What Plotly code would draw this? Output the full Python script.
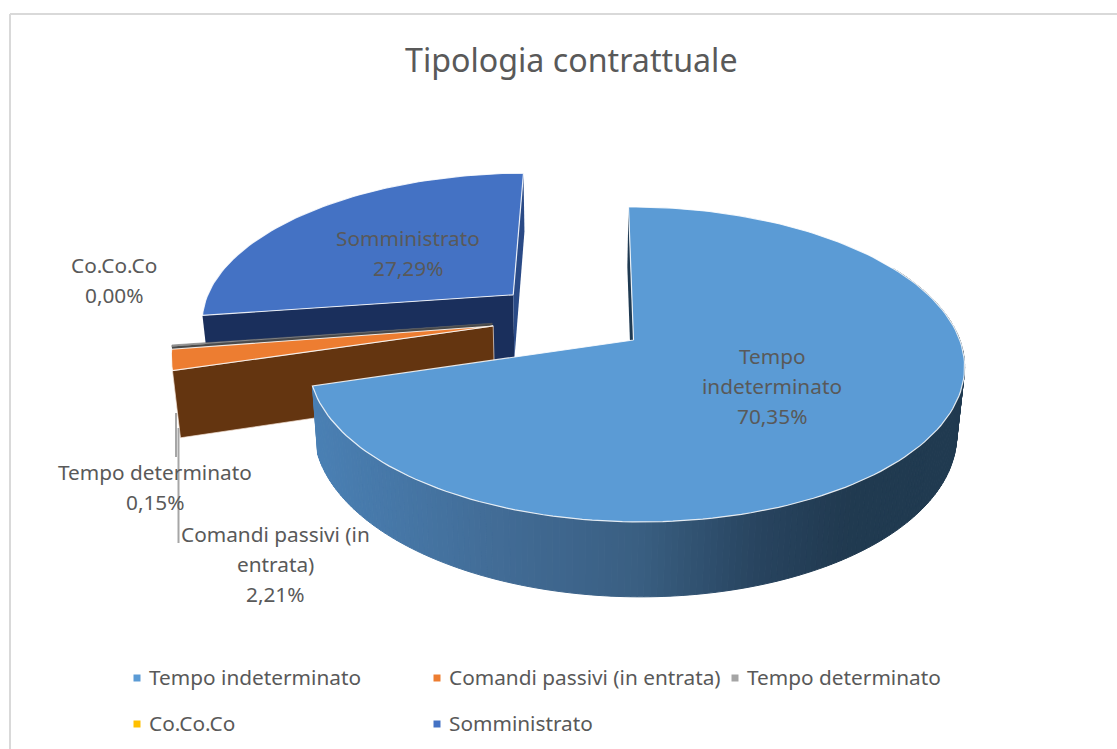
import math
import plotly.graph_objects as go

# ---- data ----
title = "Tipologia contrattuale"
categories = ["Tempo indeterminato", "Comandi passivi (in entrata)", "Tempo determinato", "Co.Co.Co", "Somministrato"]
values = [70.35, 2.21, 0.15, 0.00, 27.29]
colors = ["#5B9BD5", "#ED7D31", "#A5A5A5", "#FFC000", "#4472C4"]
wall_colors = ["#2F5577", "#643510", "#4A4A4A", "#735700", "#1A2F5C"]

# ---- projection of the exploded 3D pie onto the pixel-ranged axes ----
AX, AY, RX, RY, K, J, TILT = 633.5, 340, 324, 153.7, 0.155, -0.007, 5
VX, SHRINK, H, EXPLODE = 571, 0.98, 66.4, 0.247


def den(u, d):
    return 1 + K * d + J * u


def top(u, d):
    q = den(u, d)
    return AX + RX * u / q - TILT * d, AY - RY * d / q


def bottom(u, d):
    x, y = top(u, d)
    return VX + (x - VX) * SHRINK, AY + (y - AY) * SHRINK + H / den(u, d)


total = sum(values)
slices = []
cum = 0.0
for v in values:
    a0 = cum / total * 360
    cum += v
    slices.append((a0, cum / total * 360))


def unit(a):
    r = math.radians(a)
    return math.sin(r), math.cos(r)


mid0 = unit(sum(slices[0]) / 2)
cu, cd = -EXPLODE * mid0[0], -EXPLODE * mid0[1]


def apex(i):
    m = unit(sum(slices[i]) / 2)
    return cu + EXPLODE * m[0], cd + EXPLODE * m[1]


def rim(i, a):
    au, ad = apex(i)
    s = unit(a)
    return au + s[0], ad + s[1]


fig = go.Figure()


def poly(pts, fill, line=None, width=0.0):
    fig.add_trace(go.Scatter(
        x=[p[0] for p in pts] + [pts[0][0]], y=[p[1] for p in pts] + [pts[0][1]],
        mode="lines", fill="toself", fillcolor=fill,
        line=dict(color=line or fill, width=width), hoverinfo="skip", showlegend=False))


def top_surface(i, line="rgba(255,255,255,0.85)", width=1.2):
    a0, a1 = slices[i]
    n = max(2, int((a1 - a0) / 1.5))
    pts = [top(*apex(i))] + [top(*rim(i, a0 + (a1 - a0) * t / n)) for t in range(n + 1)]
    poly(pts, colors[i], line, width)


def cut_face(i, a, fill, line=None, width=0.0):
    ap, rp = apex(i), rim(i, a)
    poly([top(*ap), top(*rp), bottom(*rp), bottom(*ap)], fill, line, width)


def wall_gradient(x):
    stops = [(314, (74, 128, 180)), (500, (66, 108, 150)), (640, (58, 95, 130)),
             (760, (40, 68, 95)), (850, (33, 58, 80)), (964, (32, 58, 80))]
    for (x0, c0), (x1, c1) in zip(stops, stops[1:]):
        if x <= x1:
            t = max(0.0, (x - x0) / (x1 - x0))
            return "rgb(%d,%d,%d)" % tuple(c0[k] + (c1[k] - c0[k]) * t for k in range(3))
    return "rgb(32,58,80)"


# Somministrato
cut_face(4, slices[4][0], wall_colors[4])
cut_face(4, 360, "#2A4A86")
top_surface(4)
# Tempo determinato
cut_face(2, slices[2][0], wall_colors[2])
top_surface(2, "rgba(90,90,90,0.8)", 0.6)
# Comandi passivi
cut_face(1, slices[1][0], wall_colors[1], "#F3E3D6", 0.7)
top_surface(1)
# Tempo indeterminato
cut_face(0, 0, "#1F3A52")
a = 60.0
end = slices[0][1]
while a < end:
    b = min(a + 1.0, end)
    pa, pb = rim(0, a), rim(0, b)
    col = wall_gradient((top(*pa)[0] + top(*pb)[0]) / 2)
    poly([top(*pa), top(*pb), bottom(*pb), bottom(*pa)], col, col, 1.0)
    a = b
top_surface(0)

# ---- legend: markers through a scatter, text as annotations ----
legend_pos = [(137, 678), (437, 678), (735, 678), (137, 724), (437, 724)]
for (lx, ly), name, c in zip(legend_pos, categories, colors):
    fig.add_trace(go.Scatter(x=[lx], y=[ly], mode="markers", name=name, showlegend=False,
                             marker=dict(symbol="square", size=7, color=c), hoverinfo="skip"))

FONT = "Noto Sans"
GREY = "#595959"
LSIZE = 20.8
ann = []


def text(x, y, s, size=LSIZE, anchor="center"):
    ann.append(dict(x=x, y=y, xref="x", yref="y", text=s, showarrow=False, xanchor=anchor,
                    yanchor="middle", font=dict(family=FONT, size=size, color=GREY)))


pct = [f"{v:.2f}".replace(".", ",") + "%" for v in values]
text(571, 59, title, 32.2)
for (lx, ly), name in zip(legend_pos, categories):
    text(lx + 10, ly - 1, name, LSIZE, "left")

data_labels = [
    (772, 356, ["Tempo", "indeterminato", pct[0]]),
    (275, 534, ["Comandi passivi (in", "entrata)", pct[1]]),
    (155, 472, [categories[2], pct[2]]),
    (114, 265, [categories[3], pct[3]]),
    (408, 238, [categories[4], pct[4]]),
]
for x, y, lines in data_labels:
    for n, line in enumerate(lines):
        text(x, y + 30 * n, line)

shapes = [
    dict(type="line", x0=10, y0=14, x1=1117, y1=14, line=dict(color="#D9D9D9", width=2)),
    dict(type="line", x0=10, y0=14, x1=10, y1=749, line=dict(color="#D9D9D9", width=2)),
    dict(type="line", x0=176, y0=413, x1=176, y1=457, line=dict(color="#A6A6A6", width=2)),
    dict(type="line", x0=178.5, y0=428, x1=178.5, y1=543, line=dict(color="#A6A6A6", width=2)),
]

fig.update_layout(
    width=1117, height=749, margin=dict(l=0, r=0, t=0, b=0),
    paper_bgcolor="white", plot_bgcolor="white", showlegend=False,
    xaxis=dict(range=[0, 1117], visible=False, fixedrange=True),
    yaxis=dict(range=[749, 0], visible=False, fixedrange=True),
    annotations=ann, shapes=shapes,
)
fig.write_html("out.html", config={"displayModeBar": False},
               post_script="document.body.style.margin='0';document.body.style.overflow='hidden';")
